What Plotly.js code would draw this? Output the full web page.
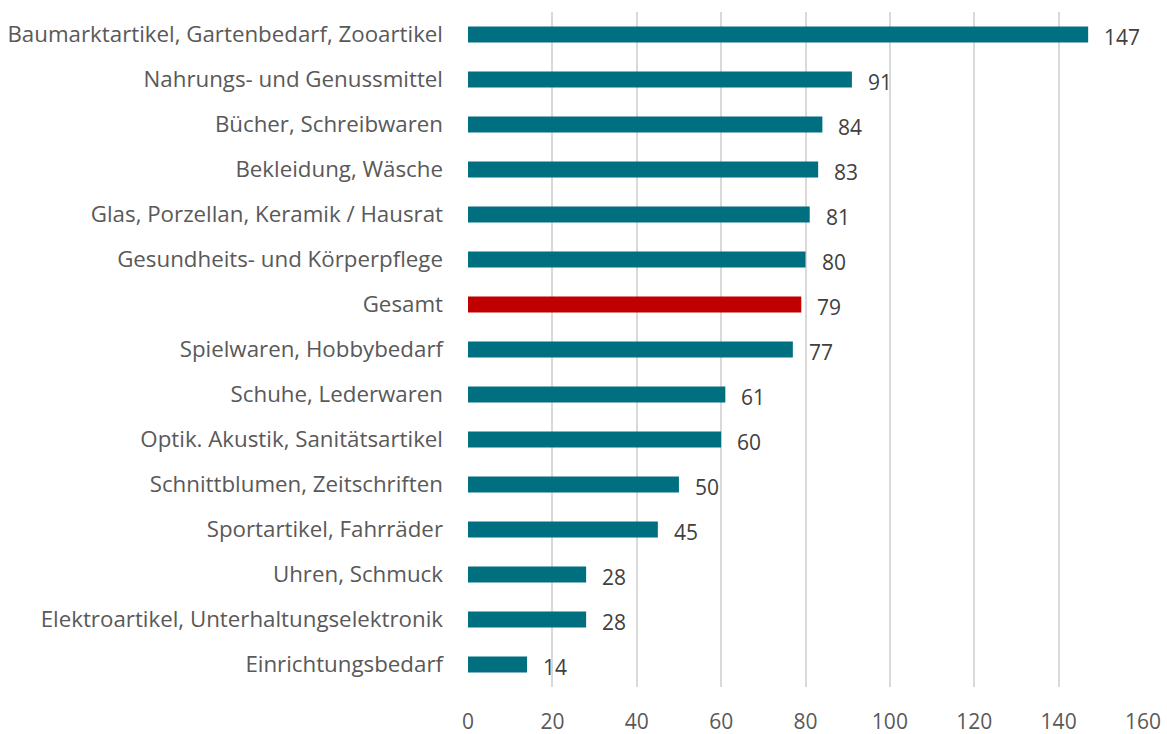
<!DOCTYPE html>
<html>
<head>
<meta charset="utf-8">
<script src="https://cdn.plot.ly/plotly-3.0.1.min.js"></script>
<style>
  html, body { margin: 0; padding: 0; background: #fff; }
  #chart { width: 1167px; height: 734px; }
</style>
</head>
<body>
<div id="chart"></div>
<script>
// Kategorien von oben nach unten
const categories = [
  'Baumarktartikel, Gartenbedarf, Zooartikel',
  'Nahrungs- und Genussmittel',
  'Bücher, Schreibwaren',
  'Bekleidung, Wäsche',
  'Glas, Porzellan, Keramik / Hausrat',
  'Gesundheits- und Körperpflege',
  'Gesamt',
  'Spielwaren, Hobbybedarf',
  'Schuhe, Lederwaren',
  'Optik. Akustik, Sanitätsartikel',
  'Schnittblumen, Zeitschriften',
  'Sportartikel, Fahrräder',
  'Uhren, Schmuck',
  'Elektroartikel, Unterhaltungselektronik',
  'Einrichtungsbedarf',
];
const values = [147, 91, 84, 83, 81, 80, 79, 77, 61, 60, 50, 45, 28, 28, 14];
const xTicks = [0, 20, 40, 60, 80, 100, 120, 140, 160];

const TEAL = '#006F80';
const RED = '#C00000';
const FONT = 'Open Sans, Noto Sans, sans-serif';

const trace = {
  type: 'bar',
  orientation: 'h',
  y: categories,
  x: values,
  marker: { color: categories.map(c => c === 'Gesamt' ? RED : TEAL) },
  hoverinfo: 'x+y',
};

// Wertbeschriftungen rechts neben den Balken
const annotations = categories.map((c, i) => ({
  x: values[i], y: c, xref: 'x', yref: 'y',
  text: String(values[i]),
  showarrow: false,
  xanchor: 'left', yanchor: 'middle',
  xshift: 14, yshift: -2,
  font: { family: FONT, size: 21, color: '#404040' },
}));

const layout = {
  width: 1167, height: 734,
  paper_bgcolor: '#fff', plot_bgcolor: '#fff',
  font: { family: FONT, color: '#595959', size: 21 },
  margin: { l: 468, r: 24, t: 12, b: 47 },
  bargap: 0.64,
  showlegend: false,
  annotations,
  xaxis: {
    range: [0, 160],
    tickvals: xTicks,
    showgrid: true, gridcolor: '#D9D9D9', gridwidth: 2,
    zeroline: false, showline: false,
    ticks: '', ticklabelstandoff: 20,
    tickfont: { family: FONT, size: 21, color: '#595959' },
    fixedrange: true,
  },
  yaxis: {
    categoryorder: 'array', categoryarray: categories,
    autorange: 'reversed',
    showgrid: false, zeroline: false, showline: false,
    ticks: '', ticklabelstandoff: 24,
    tickfont: { family: FONT, size: 22.3, color: '#595959' },
    fixedrange: true,
  },
};

Plotly.newPlot('chart', [trace], layout, { displayModeBar: false, responsive: false });
</script>
</body>
</html>
